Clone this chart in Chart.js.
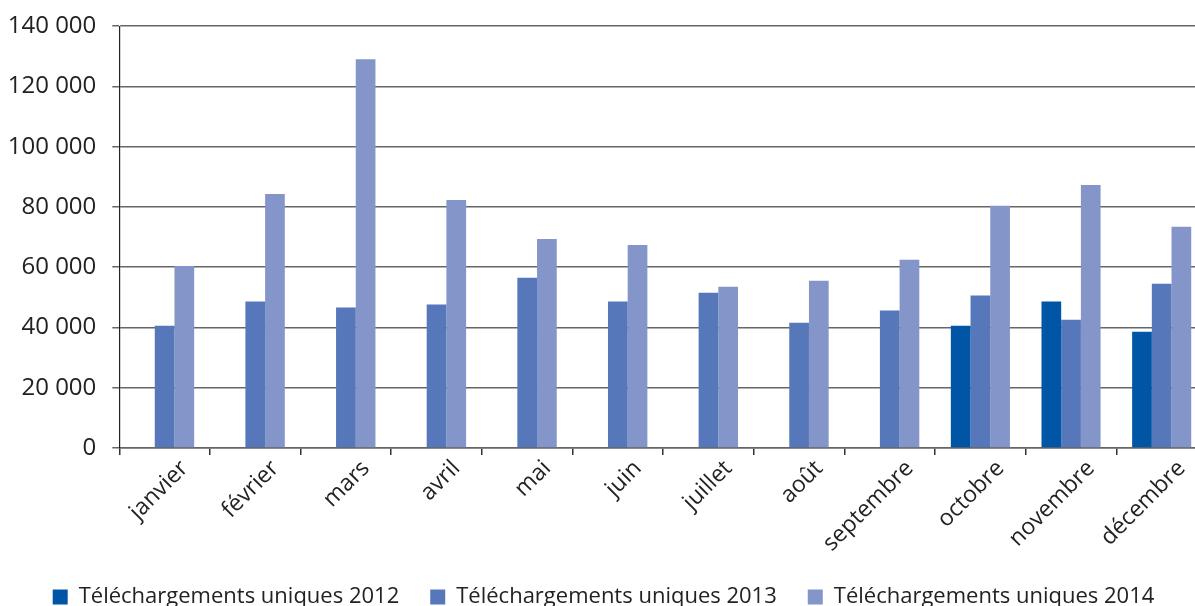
<!DOCTYPE html>
<html lang="fr">
<head>
<meta charset="utf-8">
<title>Téléchargements uniques</title>
<script src="https://cdn.jsdelivr.net/npm/chart.js@4"></script>
<style>
  html, body { margin: 0; padding: 0; background: #fff; overflow: hidden; }
  #wrap { width: 1195px; height: 606px; overflow: hidden; }
</style>
</head>
<body>
<div id="wrap"><canvas id="chart" width="1207" height="618"></canvas></div>
<script>
// Données mensuelles
const mois = ['janvier', 'février', 'mars', 'avril', 'mai', 'juin', 'juillet', 'août', 'septembre', 'octobre', 'novembre', 'décembre'];
const telechargements2012 = [null, null, null, null, null, null, null, null, null, 40600, 48600, 38600];
const telechargements2013 = [40600, 48600, 46600, 47600, 56500, 48600, 51500, 41600, 45600, 50600, 42600, 54500];
const telechargements2014 = [60400, 84300, 129000, 82300, 69400, 67400, 53500, 55500, 62500, 80400, 87300, 73400];
const ticksY = [0, 20000, 40000, 60000, 80000, 100000, 120000, 140000];

// Format "140 000"
function formatMilliers(v) {
  return String(v).replace(/\B(?=(\d{3})+(?!\d))/g, ' ');
}

const police = '"Open Sans", "Noto Sans", sans-serif';

const ctx = document.getElementById('chart').getContext('2d');
new Chart(ctx, {
  type: 'bar',
  data: {
    labels: mois,
    datasets: [
      { label: 'Téléchargements uniques 2012', data: telechargements2012, backgroundColor: '#0055a5' },
      { label: 'Téléchargements uniques 2013', data: telechargements2013, backgroundColor: '#5677ba' },
      { label: 'Téléchargements uniques 2014', data: telechargements2014, backgroundColor: '#8395c9' },
    ],
  },
  options: {
    responsive: false,
    animation: false,
    layout: { padding: { top: 5, left: 0, right: 0, bottom: 0 } },
    datasets: {
      bar: { categoryPercentage: 0.652, barPercentage: 1 },
    },
    plugins: {
      tooltip: { enabled: false },
      legend: {
        position: 'bottom',
        labels: {
          boxWidth: 15,
          boxHeight: 15,
          padding: 31,
          color: '#222',
          font: { family: police, size: 22 },
        },
      },
    },
    scales: {
      x: {
        afterFit: (scale) => { scale.height = 107; },
        grid: {
          display: true,
          drawOnChartArea: false,
          drawTicks: true,
          tickLength: 7,
          color: '#333',
          lineWidth: 1.5,
        },
        border: { color: '#666', width: 1.5 },
        ticks: {
          minRotation: 45,
          maxRotation: 45,
          padding: 0,
          labelOffset: 20,
          color: '#222',
          font: { family: police, size: 23 },
        },
      },
      y: {
        min: 0,
        max: 140000,
        afterBuildTicks: (scale) => {
          scale.ticks = ticksY.map(v => ({ value: v }));
        },
        afterFit: (scale) => { scale.width = 119.3; },
        grid: {
          color: '#666',
          lineWidth: 1.5,
          tickLength: 7,
        },
        border: { color: '#222', width: 1.2 },
        ticks: {
          padding: 16,
          color: '#222',
          font: { family: police, size: 24, lineHeight: 0.85 },
          callback: (v) => formatMilliers(v),
        },
      },
    },
  },
});
</script>
</body>
</html>
